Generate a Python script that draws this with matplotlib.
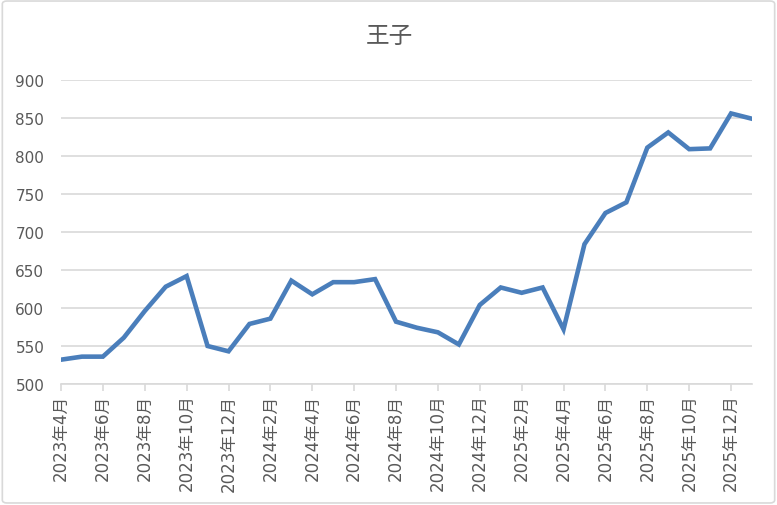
import matplotlib
matplotlib.use('Agg')
import matplotlib.pyplot as plt
from matplotlib.patches import FancyBboxPatch

# monthly values, 2023-04 .. 2026-01
months = ['2023-04', '2023-05', '2023-06', '2023-07', '2023-08', '2023-09',
          '2023-10', '2023-11', '2023-12', '2024-01', '2024-02', '2024-03',
          '2024-04', '2024-05', '2024-06', '2024-07', '2024-08', '2024-09',
          '2024-10', '2024-11', '2024-12', '2025-01', '2025-02', '2025-03',
          '2025-04', '2025-05', '2025-06', '2025-07', '2025-08', '2025-09',
          '2025-10', '2025-11', '2025-12', '2026-01']
values = [532, 536, 536, 561, 596, 628, 642, 550, 543, 579, 586, 636,
          618, 634, 634, 638, 582, 574, 568, 552, 604, 627, 620, 627,
          572, 684, 725, 739, 811, 831, 809, 810, 856, 849]
tick_labels = ['2023年4月', '2023年6月', '2023年8月', '2023年10月', '2023年12月',
               '2024年2月', '2024年4月', '2024年6月', '2024年8月', '2024年10月',
               '2024年12月', '2025年2月', '2025年4月', '2025年6月', '2025年8月',
               '2025年10月', '2025年12月']
y_ticks = [500, 550, 600, 650, 700, 750, 800, 850, 900]
title = '王子'

fam = ['DejaVu Sans', 'Noto Sans CJK JP']
txt_color = '#595959'
grid_color = '#d9d9d9'

fig = plt.figure(figsize=(7.77, 5.06), dpi=100)
fig.patches.append(FancyBboxPatch((0.003, 0.004), 0.994, 0.992,
                                  boxstyle='round,pad=0,rounding_size=0.006',
                                  transform=fig.transFigure, fill=False,
                                  edgecolor=grid_color, linewidth=1.2))

ax = fig.add_axes([61 / 777, 1 - 385 / 506, (752 - 61) / 777, (385 - 81) / 506])
x = list(range(len(months)))
ax.plot(x, values, color='#4a7ebb', linewidth=3.3, solid_joinstyle='miter',
        zorder=3)

ax.set_xlim(0, len(months) - 1)
ax.set_ylim(500, 900)
ax.set_yticks(y_ticks)
ax.set_yticklabels([str(v) for v in y_ticks], family=fam, fontsize=11,
                   color=txt_color)
ax.set_xticks(x[::2])
ax.set_xticklabels(tick_labels, rotation=90, family=fam, fontsize=12,
                   color=txt_color)
ax.tick_params(axis='y', length=0, pad=12)
ax.tick_params(axis='x', length=5, color=grid_color, width=1.2, pad=2)
ax.grid(axis='y', color=grid_color, linewidth=1.2)
ax.set_axisbelow(True)
for s in ['top', 'right', 'left']:
    ax.spines[s].set_visible(False)
ax.spines['bottom'].set_color(grid_color)
ax.spines['bottom'].set_linewidth(1.2)

fig.text(389 / 777, 1 - 36 / 506, title, ha='center', va='center',
         family=['Noto Sans CJK JP'], fontsize=17, color=txt_color)

fig.savefig('out.png', dpi=100)
